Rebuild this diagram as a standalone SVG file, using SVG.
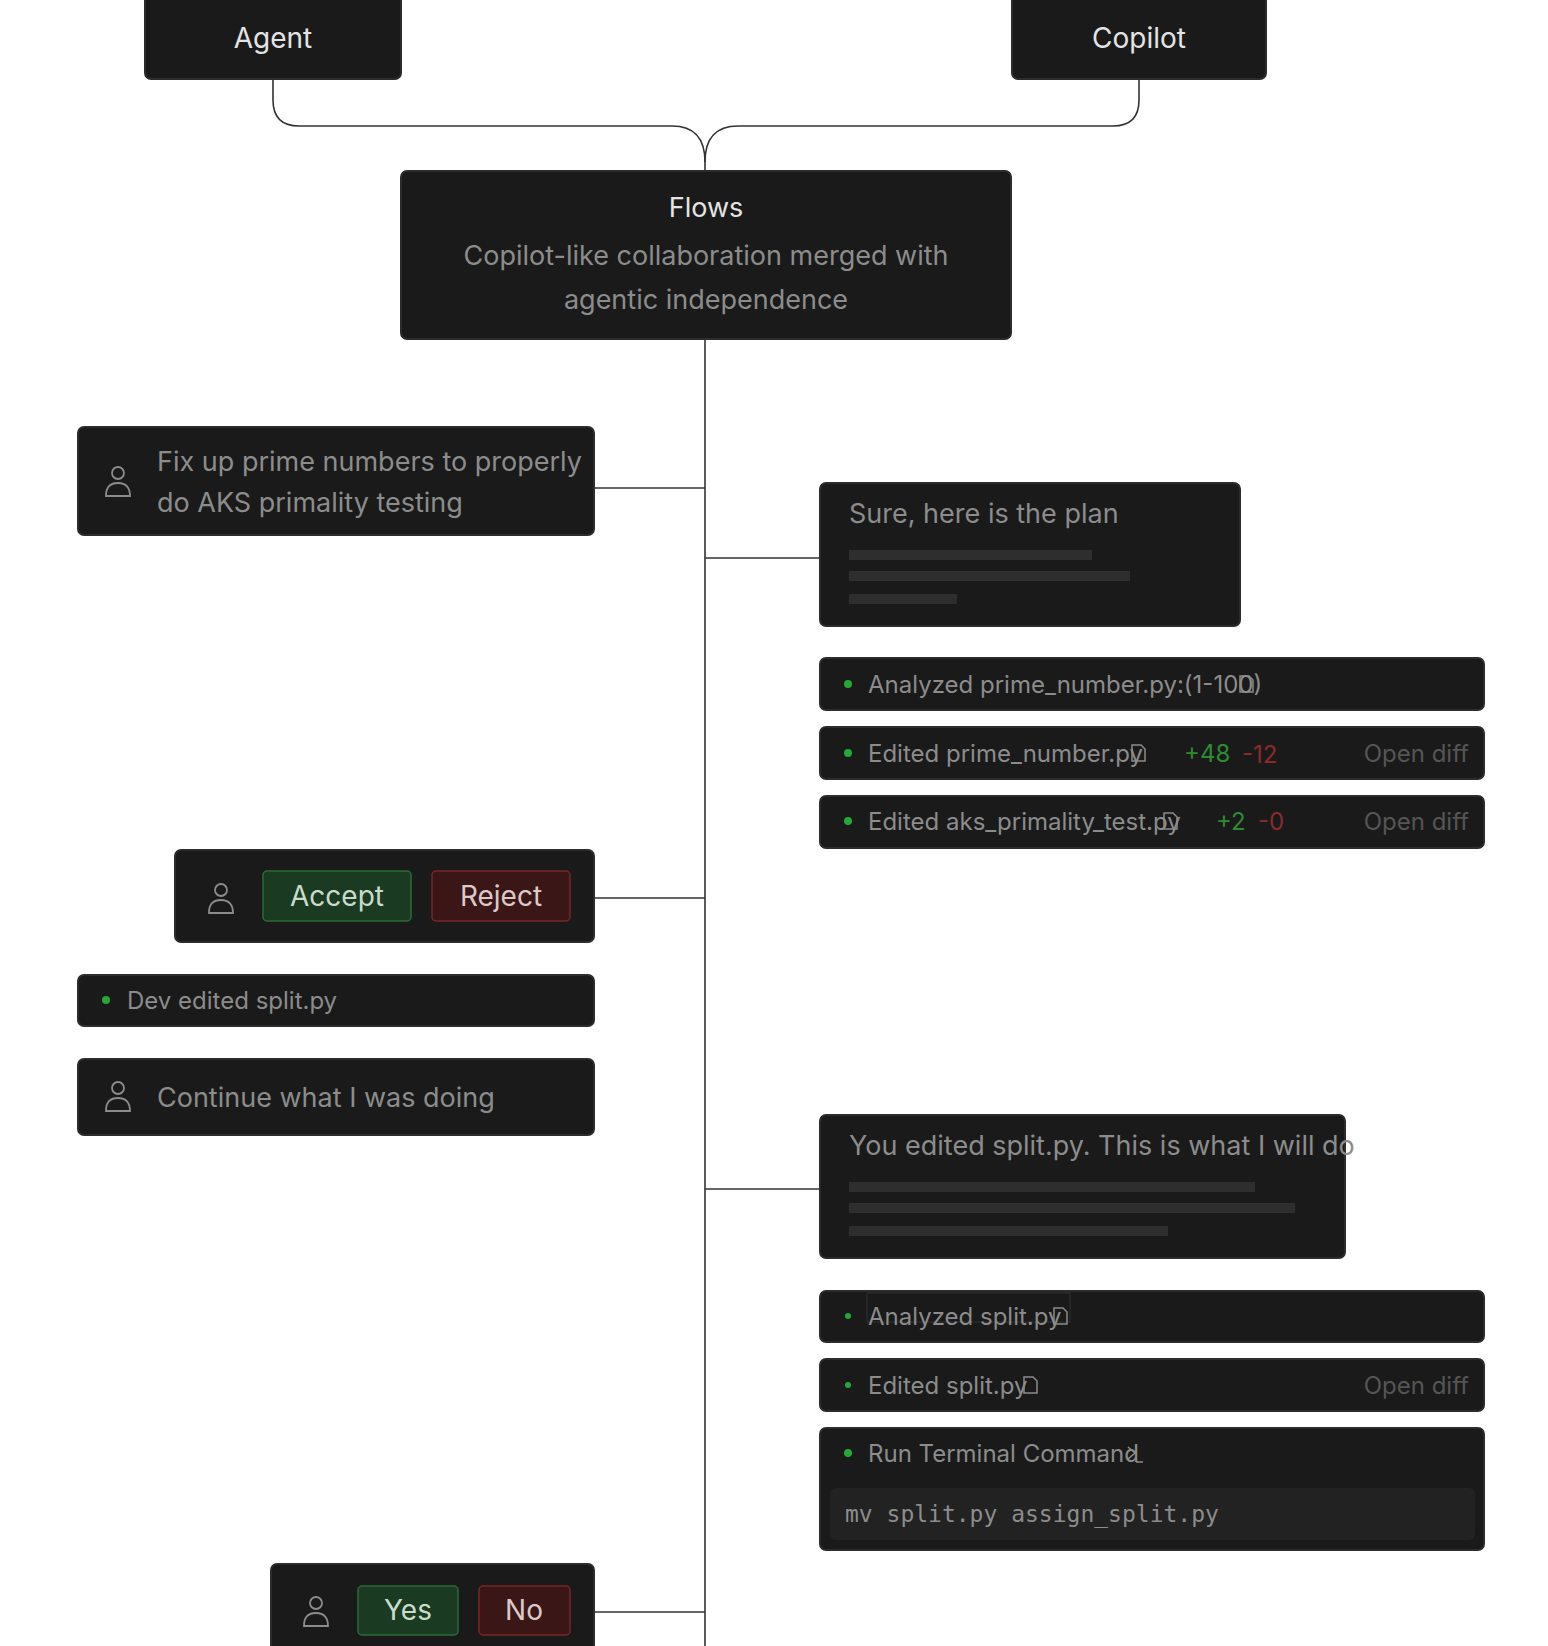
<svg xmlns="http://www.w3.org/2000/svg" xmlns:xlink="http://www.w3.org/1999/xlink" width="1548" height="1646" viewBox="0 0 1548 1646">
<style>
.box{fill:#1a1a1a;stroke:#2c2c2c;stroke-width:2}
.t{font-family:Inter,"Liberation Sans",sans-serif}
.w{fill:#e4e4e4}
.g{fill:#8c8c8c}
.big{font-size:28px}
.md{font-size:27px}
.sm{font-size:24px}
.bar{fill:#2e2e2e}
.dot{fill:#25a838}
.conn{fill:none;stroke:#333;stroke-width:1.6}
.ic{fill:none;stroke:#8c8c8c;stroke-width:1.8}
.mono{font-family:"DejaVu Sans Mono","Liberation Mono",monospace;font-size:23px;fill:#8c8c8c}
</style>
<defs>
<g id="person"><circle cx="0" cy="-9" r="6" class="ic"/><path d="M-12 14 Q-12 1 0 1 Q12 1 12 14 Z" class="ic"/></g>
<g id="file"><path d="M-6 -8 H3 L7 -4 V8 H-6 Z" class="ic" style="stroke-width:1.5"/></g>
</defs>
<rect width="1548" height="1646" fill="#fff"/>
<g id="connectors">
<path class="conn" d="M273 79 V100 Q273 126 299 126 H672 Q705 126 705 162 V171"/>
<path class="conn" d="M1139 79 V100 Q1139 126 1113 126 H738 Q705 126 705 162"/>
<path class="conn" d="M705 339 V1646"/>
<path class="conn" d="M594 488 H705"/>
<path class="conn" d="M705 558 H820"/>
<path class="conn" d="M594 898 H705"/>
<path class="conn" d="M705 1189 H820"/>
<path class="conn" d="M594 1612 H705"/>
</g>
<g id="agent"><rect class="box" x="145" y="-6" width="256" height="85" rx="6"/><text class="t w big" x="273" y="48" text-anchor="middle">Agent</text></g>
<g id="copilot"><rect class="box" x="1012" y="-6" width="254" height="85" rx="6"/><text class="t w big" x="1139" y="48" text-anchor="middle">Copilot</text></g>
<g id="flows"><rect class="box" x="401" y="171" width="610" height="168" rx="6"/>
<text class="t w md" x="706" y="217" text-anchor="middle">Flows</text>
<text class="t g md" x="706" y="265" text-anchor="middle">Copilot-like collaboration merged with</text>
<text class="t g md" x="706" y="309" text-anchor="middle">agentic independence</text></g>
<g id="fixup"><rect class="box" x="78" y="427" width="516" height="108" rx="6"/><use xlink:href="#person" x="118" y="482"/>
<text class="t g md" x="157" y="471">Fix up prime numbers to properly</text>
<text class="t g md" x="157" y="512">do AKS primality testing</text></g>
<g id="plan"><rect class="box" x="820" y="483" width="420" height="143" rx="6"/>
<text class="t g md" x="849" y="523">Sure, here is the plan</text>
<rect class="bar" x="849" y="550" width="243" height="10"/><rect class="bar" x="849" y="571" width="281" height="10"/><rect class="bar" x="849" y="594" width="108" height="10"/></g>
<g id="analyzed1"><rect class="box" x="820" y="658" width="664" height="52" rx="6"/><circle class="dot" cx="848" cy="684" r="4"/>
<text class="t g sm" x="868" y="693">Analyzed prime_number.py:(1-100)</text><use xlink:href="#file" x="1246" y="684"/></g>
<g id="edited1"><rect class="box" x="820" y="727" width="664" height="52" rx="6"/><circle class="dot" cx="848" cy="753" r="4"/>
<text class="t g sm" x="868" y="762">Edited prime_number.py</text><use xlink:href="#file" x="1138" y="753"/>
<text class="t sm" x="1184" y="762" fill="#2f8a34">+48</text><text class="t sm" x="1242" y="763" fill="#8a2b2b">-12</text>
<text class="t sm" x="1469" y="762" text-anchor="end" fill="#555">Open diff</text></g>
<g id="edited2"><rect class="box" x="820" y="796" width="664" height="52" rx="6"/><circle class="dot" cx="848" cy="821" r="4"/>
<text class="t g sm" x="868" y="830">Edited aks_primality_test.py</text><use xlink:href="#file" x="1170" y="821"/>
<text class="t sm" x="1216" y="830" fill="#2f8a34">+2</text><text class="t sm" x="1258" y="830" fill="#8a2b2b">-0</text>
<text class="t sm" x="1469" y="830" text-anchor="end" fill="#555">Open diff</text></g>
<g id="acceptnode"><rect class="box" x="175" y="850" width="419" height="92" rx="6"/><use xlink:href="#person" x="221" y="899"/>
<rect x="263" y="871" width="148" height="50" rx="4" fill="#1b3a22" stroke="#2d6a38" stroke-width="1.5"/><text class="t big" x="337" y="906" text-anchor="middle" fill="#c9dccb">Accept</text>
<rect x="432" y="871" width="138" height="50" rx="4" fill="#3a1616" stroke="#7a2626" stroke-width="1.5"/><text class="t big" x="501" y="906" text-anchor="middle" fill="#dcc9c9">Reject</text></g>
<g id="devedited"><rect class="box" x="78" y="975" width="516" height="51" rx="6"/><circle class="dot" cx="106" cy="1000" r="4"/>
<text class="t g sm" x="127" y="1009">Dev edited split.py</text></g>
<g id="continue"><rect class="box" x="78" y="1059" width="516" height="76" rx="6"/><use xlink:href="#person" x="118" y="1097"/>
<text class="t g md" x="157" y="1107">Continue what I was doing</text></g>
<g id="youedited"><rect class="box" x="820" y="1115" width="525" height="143" rx="6"/>
<text class="t g md" x="849" y="1155">You edited split.py. This is what I will do</text>
<rect class="bar" x="849" y="1182" width="406" height="10"/><rect class="bar" x="849" y="1203" width="446" height="10"/><rect class="bar" x="849" y="1226" width="319" height="10"/></g>
<g id="analyzed2"><rect class="box" x="820" y="1291" width="664" height="51" rx="6"/><circle class="dot" cx="848" cy="1316" r="3"/>
<rect x="867" y="1293" width="203" height="29" fill="none" stroke="#333" stroke-width="1"/>
<text class="t g sm" x="868" y="1325">Analyzed split.py</text><use xlink:href="#file" x="1060" y="1316"/></g>
<g id="edited3"><rect class="box" x="820" y="1359" width="664" height="52" rx="6"/><circle class="dot" cx="848" cy="1385" r="3"/>
<text class="t g sm" x="868" y="1394">Edited split.py</text><use xlink:href="#file" x="1030" y="1385"/>
<text class="t sm" x="1469" y="1394" text-anchor="end" fill="#555">Open diff</text></g>
<g id="terminal"><rect class="box" x="820" y="1428" width="664" height="122" rx="6"/><circle class="dot" cx="848" cy="1453" r="4"/>
<text class="t g sm" x="868" y="1462">Run Terminal Command</text>
<path d="M1128 1447 L1135 1453 L1128 1459 M1136 1462 H1143" class="ic" style="stroke-width:1.5"/>
<rect x="830" y="1488" width="645" height="52" rx="6" fill="#222"/>
<text class="mono" x="845" y="1522">mv split.py assign_split.py</text></g>
<g id="yesno"><rect class="box" x="271" y="1564" width="323" height="100" rx="6"/><use xlink:href="#person" x="316" y="1612"/>
<rect x="358" y="1586" width="100" height="49" rx="4" fill="#1b3a22" stroke="#2d6a38" stroke-width="1.5"/><text class="t big" x="408" y="1620" text-anchor="middle" fill="#c9dccb">Yes</text>
<rect x="479" y="1586" width="91" height="49" rx="4" fill="#3a1616" stroke="#7a2626" stroke-width="1.5"/><text class="t big" x="524" y="1620" text-anchor="middle" fill="#dcc9c9">No</text></g>
</svg>
